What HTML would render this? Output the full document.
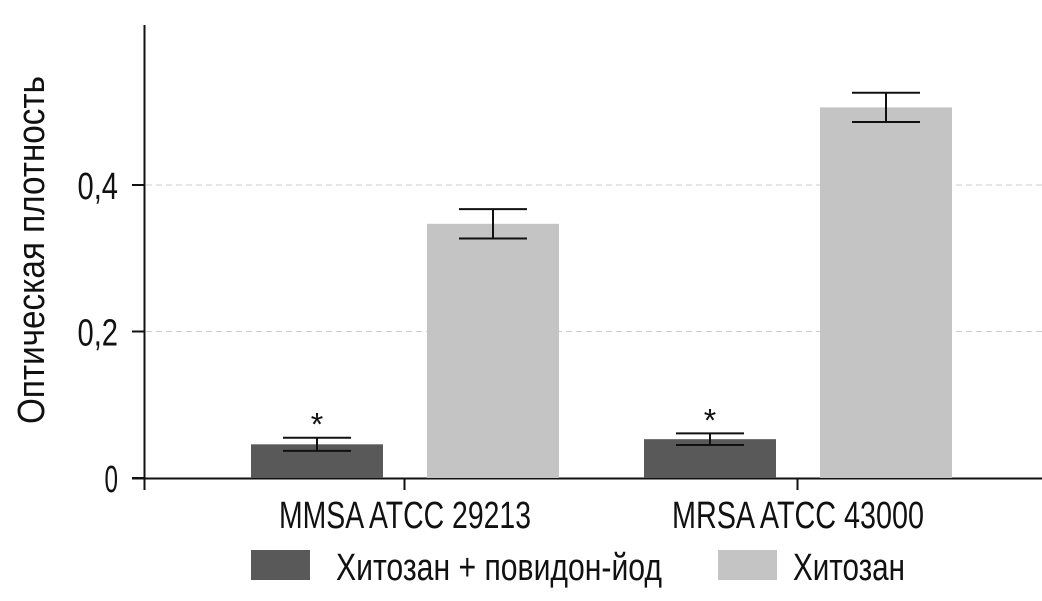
<!DOCTYPE html>
<html><head><meta charset="utf-8"><style>
body{margin:0;background:#fff}
svg text{font-family:"Liberation Sans Narrow","Liberation Sans",sans-serif;fill:#111}
</style></head><body>
<svg width="1042" height="596" id="c">
<line x1="144.5" y1="25" x2="144.5" y2="490" stroke="#111" stroke-width="2"/>
<line x1="132" y1="478.5" x2="1042" y2="478.5" stroke="#111" stroke-width="2"/>
<text transform="translate(44,250) rotate(-90)" text-anchor="middle" font-size="38" textLength="348" lengthAdjust="spacingAndGlyphs">Оптическая плотность</text>
<g id="g"></g>
<g>
<rect x="251" y="550" width="59" height="30" fill="#595959"/>
<text x="336" y="580" font-size="38" textLength="326" lengthAdjust="spacingAndGlyphs">Хитозан + повидон-йод</text>
<rect x="718" y="550" width="59" height="30" fill="#c4c4c4"/>
<text x="793" y="580" font-size="38" textLength="112" lengthAdjust="spacingAndGlyphs">Хитозан</text>
</g>
</svg>
<script>
const categories=["MMSA ATCC 29213","MRSA ATCC 43000"];
const comboValues=[0.046,0.053];
const comboErr=[0.009,0.008];
const chitosanValues=[0.347,0.506];
const chitosanErr=[0.02,0.02];
const yTicks=[0,0.2,0.4];
const yTickLabels=["0","0,2","0,4"];
const ns="http://www.w3.org/2000/svg",g=document.getElementById('g');
const y=v=>478-v*732.5;
const gx=i=>405+i*393;
function mk(t,a){const e=document.createElementNS(ns,t);for(const k in a)e.setAttribute(k,a[k]);g.appendChild(e);return e;}
yTicks.forEach((v,i)=>{
 if(v>0){const l=mk('line',{x1:146,x2:1042,y1:y(v),y2:y(v),stroke:'#ccc','stroke-dasharray':'6,4'});
 
 }
 const tk=mk('line',{x1:132,x2:145,y1:y(v),y2:y(v),stroke:'#111','stroke-width':2});
 
 
 const lab=yTickLabels[i];
 const t=mk('text',{x:118,y:y(v)+14,'text-anchor':'end','font-size':38,textLength:lab.length*13.5,lengthAdjust:'spacingAndGlyphs'});t.textContent=lab;
 
 
});
[0,1,2].forEach(i=>{const tk=mk('line',{x1:gx(i)-0.5,x2:gx(i)-0.5,y1:478,y2:490,stroke:'#111','stroke-width':2});
 
 });
function bar(x,v,e,fill,name,star){
 const r=mk('rect',{x:x,y:y(v),width:132,height:478-y(v),fill:fill});
 
 
 const cx=x+66;
 [[cx,y(v+e),cx,y(v-e)],[cx-34,y(v+e),cx+34,y(v+e)],[cx-34,y(v-e),cx+34,y(v-e)]].forEach(p=>{
  const l=mk('line',{x1:p[0],y1:p[1],x2:p[2],y2:p[3],stroke:'#111','stroke-width':2});
  
  });
 if(star){const s=mk('text',{x:cx,y:y(v+e)-2,'text-anchor':'middle','font-size':32});s.textContent='*';
  
  }
}
categories.forEach((c,i)=>{
 bar(gx(i)-154,comboValues[i],comboErr[i],'#595959','bar-combo',true);
 bar(gx(i)+22,chitosanValues[i],chitosanErr[i],'#c4c4c4','bar-chitosan',false);
 const t=mk('text',{x:gx(i),y:528,'text-anchor':'middle','font-size':38,textLength:252,lengthAdjust:'spacingAndGlyphs'});t.textContent=c;
 
 
});
</script>
</body></html>
